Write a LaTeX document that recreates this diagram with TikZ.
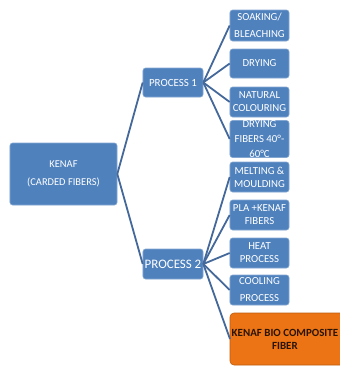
\documentclass[tikz,border=0pt]{standalone}
\usepackage{fontspec}
\setmainfont{Carlito}
\definecolor{boxblue}{HTML}{4F81BD}
\definecolor{lineblue}{HTML}{44689A}
\definecolor{boxorange}{HTML}{EC7414}
\definecolor{darktext}{HTML}{2A1405}
\begin{document}
\begin{tikzpicture}[x=1bp,y=-1bp,
  bluebox/.style={draw=boxblue!70!white,line width=0.6bp,fill=boxblue,rounded corners=2.5bp,
    text=white,align=center,inner sep=0pt,font=\fontsize{10.8}{13}\selectfont},
  link/.style={draw=lineblue,line width=1.8bp}]
\useasboundingbox (0,0) rectangle (340,367);
\clip (0,0) rectangle (340,367);
% root
\node[bluebox,minimum width=107bp,minimum height=62bp,font=\fontsize{10.5}{18}\selectfont] (kenaf) at (63.5,174) {KENAF\\(CARDED FIBERS)};
% level 1
\node[bluebox,minimum width=60bp,minimum height=29bp,font=\fontsize{11}{13}\selectfont] (p1) at (173,82.5) {PROCESS 1};
\node[bluebox,minimum width=60bp,minimum height=30bp,font=\fontsize{13}{14}\selectfont] (p2) at (173,264) {PROCESS 2};
% process 1 children
\node[bluebox,minimum width=59bp,minimum height=31bp,font=\fontsize{10.8}{17}\selectfont] (c1) at (259.5,25.5) {SOAKING/\\BLEACHING};
\node[bluebox,minimum width=59bp,minimum height=29bp] (c2) at (259.5,63.5) {DRYING};
\node[bluebox,minimum width=59bp,minimum height=30bp] (c3) at (259.5,102) {NATURAL\\COLOURING};
\node[bluebox,minimum width=59bp,minimum height=30bp,font=\fontsize{10.8}{15}\selectfont] (c4) at (259.5,139) {DRYING\\FIBERS 40°-\\60°C};
% process 2 children
\node[bluebox,minimum width=59bp,minimum height=30bp] (d1) at (259.5,177) {MELTING \&\\MOULDING};
\node[bluebox,minimum width=59bp,minimum height=30bp] (d2) at (259.5,215) {PLA +KENAF\\FIBERS};
\node[bluebox,minimum width=59bp,minimum height=30bp] (d3) at (259.5,253) {HEAT\\PROCESS};
\node[bluebox,minimum width=59bp,minimum height=30bp,font=\fontsize{10.8}{17}\selectfont] (d4) at (259.5,290) {COOLING\\PROCESS};
% final (orange) box: runs past the right edge as in the reference
\fill[boxorange,rounded corners=4bp] (230,313) rectangle (358,365);
\draw[boxorange!80!black,line width=0.6bp,rounded corners=4bp] (230,313) rectangle (358,365);
\node[inner xsep=1.5bp,inner ysep=0pt,anchor=west,align=center,text=darktext,
  font=\fontsize{11}{13}\selectfont\bfseries] (d5) at (230,339) {KENAF BIO COMPOSITE\\FIBER};
% connectors
\draw[link] (kenaf.east) -- (p1.west);
\draw[link] (kenaf.east) -- (p2.west);
\foreach \c in {c1,c2,c3,c4} \draw[link] (p1.east) -- (\c.west);
\foreach \c in {d1,d2,d3,d4,d5} \draw[link] (p2.east) -- (\c.west);
\end{tikzpicture}
\end{document}
